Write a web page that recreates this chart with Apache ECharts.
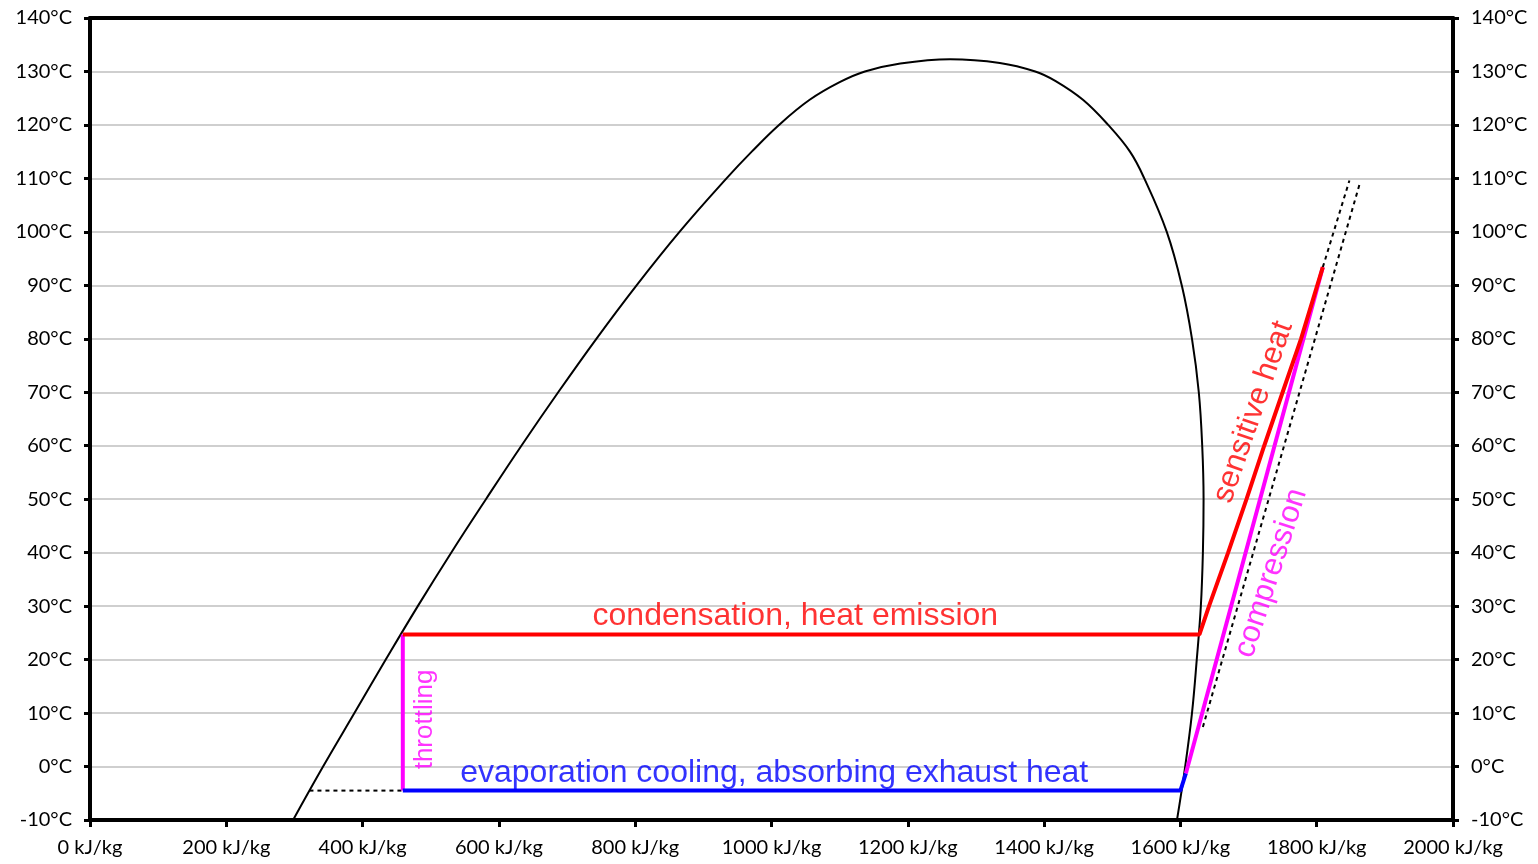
<!DOCTYPE html>
<html><head><meta charset="utf-8">
<script src="https://cdn.jsdelivr.net/npm/echarts/dist/echarts.min.js"></script>
<style>html,body{margin:0;padding:0;background:#fff}#c{width:1538px;height:864px}</style>
</head><body><div id="c"></div><script>
// Saturation dome (enthalpy kJ/kg, temperature °C)
const domeH = [298, 342, 388, 434, 481, 530, 581, 633, 687, 743, 802, 865, 934, 971, 1011, 1056, 1100, 1137, 1189, 1262, 1335, 1387, 1417, 1457, 1494, 1526, 1547, 1580, 1602, 1617, 1627, 1632, 1634, 1633, 1630, 1624, 1617, 1607, 1595];
const domeT = [-10, 0, 10, 20, 30, 40, 50, 60, 70, 80, 90, 100, 110, 115, 120, 124.7, 128, 130, 131.5, 132.3, 131.6, 130, 128.2, 124.7, 120, 115, 110, 100, 90, 80, 70, 60, 50, 40, 30, 20, 10, 0, -10];
// Condensation + sensitive heat (red)
const condH = [459, 1628, 1642, 1670, 1697, 1723, 1750, 1777, 1809];
const condT = [24.7, 24.7, 30, 40, 50, 60, 70, 80, 93.4];
// Evaporation (blue)
const evapH = [459, 1600, 1608];
const evapT = [-4.5, -4.5, -1.3];
// Compression (magenta)
const compH = [1608, 1809];
const compT = [-1.3, 93.4];
// Throttling (magenta)
const throtH = [459, 459];
const throtT = [24.7, -4.5];
// Dashed helper lines
const dashLiqH = [322, 459];
const dashLiqT = [-4.5, -4.5];
const dashIsobarH = [1809, 1848];
const dashIsobarT = [93.4, 109.6];
const dashIsentH = [1633, 1864];
const dashIsentT = [7.4, 109.4];
// Annotations
const annoText = ['condensation, heat emission', 'evaporation cooling, absorbing exhaust heat', 'throttling', 'sensitive heat', 'compression'];
const annoH = [1035, 1004, 491.5, 1707, 1733];
const annoT = [28.2, -1.2, 8.8, 66.3, 36.2];
// Axis ticks
const xMin = 0, xMax = 2000, xStep = 200;
const yMin = -10, yMax = 140, yStep = 10;
const xUnit = ' kJ/kg', yUnit = '°C';

const pts = (H, T) => H.map((h, i) => [h, T[i]]);
const annoStyle = [
  {color: '#ff0000', fontSize: 32, rotate: 0},
  {color: '#0000ff', fontSize: 32, rotate: 0},
  {color: '#ff00ff', fontSize: 26, rotate: 90},
  {color: '#ff0000', fontSize: 31, rotate: 71},
  {color: '#ff00ff', fontSize: 31, rotate: 72}
];

const chart = echarts.init(document.getElementById('c'), null, {renderer: 'canvas'});
const axisFont = {fontFamily: 'Lato', fontSize: 20, color: '#000'};
const yAxisCommon = {
  type: 'value', min: yMin, max: yMax, interval: yStep,
  axisLine: {show: true, onZero: false, lineStyle: {color: '#000', width: 4}},
  axisTick: {show: true, inside: false, length: 6, lineStyle: {color: '#000', width: 3}},
  axisLabel: Object.assign({margin: 18, formatter: v => String(v) + yUnit}, axisFont)
};
const lineS = (H, T, color, width, type, z) => ({
  type: 'line', data: pts(H, T), showSymbol: false, symbol: 'none', silent: true,
  lineStyle: {color, width, type: type || 'solid'}, z: z || 2, clip: false
});

chart.setOption({
  animation: false,
  backgroundColor: '#fff',
  grid: {left: 90, right: 85, top: 18, bottom: 44, containLabel: false, outerBoundsMode: 'none'},
  xAxis: [{
    type: 'value', min: xMin, max: xMax, interval: xStep, position: 'bottom',
    axisLine: {show: true, onZero: false, lineStyle: {color: '#000', width: 4}},
    axisTick: {show: true, length: 7, lineStyle: {color: '#000', width: 3}},
    axisLabel: Object.assign({margin: 18, formatter: v => String(v) + xUnit, showMinLabel: true, showMaxLabel: true}, axisFont),
    splitLine: {show: false}
  }, {
    type: 'value', min: xMin, max: xMax, interval: xStep, position: 'top',
    axisLine: {show: true, onZero: false, lineStyle: {color: '#000', width: 4}},
    axisTick: {show: false}, axisLabel: {show: false}, splitLine: {show: false}
  }],
  yAxis: [
    Object.assign({position: 'left', splitLine: {show: true, lineStyle: {color: '#bfbfbf', width: 1.5}}}, yAxisCommon),
    Object.assign({position: 'right', splitLine: {show: false}}, yAxisCommon)
  ],
  series: [
    Object.assign(lineS(domeH, domeT, '#000', 2), {smooth: 0.4}),
    lineS(dashLiqH, dashLiqT, '#000', 2, [4, 4]),
    lineS(dashIsobarH, dashIsobarT, '#000', 2, [4, 4]),
    lineS(dashIsentH, dashIsentT, '#000', 2, [4, 4]),
    lineS(throtH, throtT, '#ff00ff', 4, null, 3),
    lineS(compH, compT, '#ff00ff', 4, null, 3),
    lineS(evapH, evapT, '#0000ff', 4, null, 4),
    lineS(condH, condT, '#ff0000', 4, null, 5),
    {
      type: 'scatter', silent: true, z: 6, symbolSize: 1,
      itemStyle: {color: 'rgba(0,0,0,0)'},
      data: annoText.map((t, i) => ({
        name: t, value: [annoH[i], annoT[i]],
        label: {
          show: true, position: 'inside', formatter: '{b}', align: 'center', verticalAlign: 'middle',
          fontFamily: 'Liberation Sans', fontSize: annoStyle[i].fontSize, color: annoStyle[i].color, rotate: annoStyle[i].rotate
        }
      }))
    }
  ]
});
</script></body></html>
